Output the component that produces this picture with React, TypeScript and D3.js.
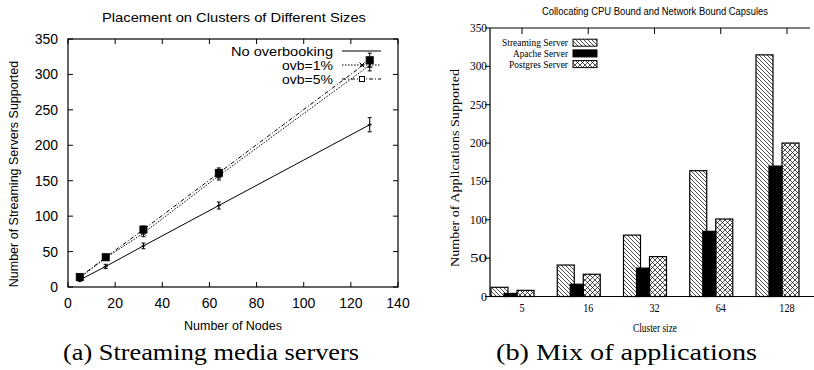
import React from 'react';
import * as d3 from 'd3';

// left panel: streaming servers vs nodes
const nodes = [5, 16, 32, 64, 128];
const noOvb = [10, 29, 58, 115, 229];
const noOvbErr = [2, 3, 4, 5, 10];
const ovb1 = [13, 41, 76, 157, 313];
const ovb1Err = [2, 3, 5, 6, 8];
const ovb5 = [14, 42, 81, 161, 320];
const ovb5Err = [2, 3, 5, 7, 10];
const xTicksA = [0, 20, 40, 60, 80, 100, 120, 140];
const yTicks = [0, 50, 100, 150, 200, 250, 300, 350];

// right panel: application mix
const clusterSizes = ['5', '16', '32', '64', '128'];
const streaming = [12, 41, 80, 164, 315];
const apache = [4, 16, 37, 85, 170];
const postgres = [8, 29, 52, 101, 200];

const sans = 'Liberation Sans, Arial, sans-serif';
const serif = 'Liberation Serif, Times New Roman, serif';

const LeftChart = () => {
  const x = d3.scaleLinear().domain([0, 140]).range([68, 398]);
  const y = d3.scaleLinear().domain([0, 350]).range([287, 39]);
  const series = [
    { name: 'No overbooking', vals: noOvb, err: noOvbErr, dash: 'none', marker: 'plus' },
    { name: 'ovb=1%', vals: ovb1, err: ovb1Err, dash: '1.5,1.5', marker: 'x' },
    { name: 'ovb=5%', vals: ovb5, err: ovb5Err, dash: '4,2,1,2', marker: 'sq' },
  ];
  const line = d3.line<number>().x((d, i) => x(nodes[i])).y((d) => y(d));
  const marker = (m: string, cx: number, cy: number, key: string, legend = false) => {
    if (m === 'plus') return <path key={key} d={`M${cx - 2},${cy}h4M${cx},${cy - 2}v4`} stroke="#000" />;
    if (m === 'x') return <path key={key} d={`M${cx - 2.5},${cy - 2.5}l5,5M${cx - 2.5},${cy + 2.5}l5,-5`} stroke="#000" />;
    return legend
      ? <rect key={key} x={cx - 2.5} y={cy - 2.5} width={5} height={5} fill="#fff" stroke="#000" />
      : <rect key={key} x={cx - 3.5} y={cy - 3.5} width={7} height={7} fill="#000" stroke="#000" />;
  };
  return (
    <g>
      <text x={234} y={22} textAnchor="middle" fontFamily={sans} fontSize={13.5} textLength={264} lengthAdjust="spacingAndGlyphs">Placement on Clusters of Different Sizes</text>
      <rect x={68} y={39} width={330} height={248} fill="none" stroke="#000" strokeWidth={1.2} />
      {yTicks.map((t) => (
        <g key={'y' + t}>
          <path d={`M68,${y(t)}h5M398,${y(t)}h-5`} stroke="#000" />
          <text x={58} y={y(t) + 5} textAnchor="end" fontFamily={sans} fontSize={14}>{t}</text>
        </g>
      ))}
      {xTicksA.map((t) => (
        <g key={'x' + t}>
          <path d={`M${x(t)},287v-5M${x(t)},39v5`} stroke="#000" />
          <text x={x(t)} y={308} textAnchor="middle" fontFamily={sans} fontSize={14}>{t}</text>
        </g>
      ))}
      <text transform="translate(18,174) rotate(-90)" textAnchor="middle" fontFamily={sans} fontSize={12.5}>Number of Streaming Servers Supported</text>
      <text x={233} y={330} textAnchor="middle" fontFamily={sans} fontSize={12.5}>Number of Nodes</text>
      {series.map((s) => (
        <g key={s.name}>
          <path d={line(s.vals) || ''} fill="none" stroke="#000" strokeWidth={1} strokeDasharray={s.dash} />
          {s.vals.map((v, i) => {
            const cx = x(nodes[i]);
            return (
              <g key={i}>
                <path d={`M${cx},${y(v - s.err[i])}V${y(v + s.err[i])}M${cx - 2},${y(v - s.err[i])}h4M${cx - 2},${y(v + s.err[i])}h4`} stroke="#000" />
                {marker(s.marker, cx, y(v), 'm' + i)}
              </g>
            );
          })}
        </g>
      ))}
      {series.map((s, i) => {
        const ly = 51 + i * 14;
        return (
          <g key={'l' + s.name}>
            <text x={333} y={ly + 4.5} textAnchor="end" fontFamily={sans} fontSize={13.5} textLength={s.name === 'No overbooking' ? 102 : 51} lengthAdjust="spacingAndGlyphs">{s.name}</text>
            <path d={`M342,${ly}H381`} stroke="#000" strokeDasharray={s.dash} />
            {i > 0 && marker(s.marker, 362, ly, 'lm', true)}
          </g>
        );
      })}
      <text x={211} y={360} textAnchor="middle" fontFamily={serif} fontSize={23} textLength={296} lengthAdjust="spacingAndGlyphs">(a) Streaming media servers</text>
    </g>
  );
};

const RightChart = () => {
  const x = d3.scalePoint<string>().domain(clusterSizes).range([522, 787]);
  const y = d3.scaleLinear().domain([0, 350]).range([296.5, 28]);
  const bars = [
    { name: 'Streaming Server', vals: streaming, fill: 'url(#hatch)', x0: -31, x1: -14, w: 66 },
    { name: 'Apache Server', vals: apache, fill: '#000', x0: -18, x1: -5, w: 55 },
    { name: 'Postgres Server', vals: postgres, fill: 'url(#cross)', x0: -5, x1: 12, w: 59 },
  ];
  return (
    <g>
      <defs>
        <pattern id="hatch" patternUnits="userSpaceOnUse" width={4} height={4}>
          <path d="M0,0L4,4M-1,3L1,5M3,-1L5,1" stroke="#000" strokeWidth={0.7} />
        </pattern>
        <pattern id="cross" patternUnits="userSpaceOnUse" width={5} height={5}>
          <path d="M0,0L5,5M-1,4L1,6M4,-1L6,1M0,5L5,0M-1,1L1,-1M4,6L6,4" stroke="#000" strokeWidth={0.7} />
        </pattern>
      </defs>
      <text x={655} y={15} textAnchor="middle" fontFamily={sans} fontSize={10} textLength={226} lengthAdjust="spacingAndGlyphs">Collocating CPU Bound and Network Bound Capsules</text>
      <path d="M490,28V296.5H814M490,28H810" fill="none" stroke="#000" strokeWidth={1.2} />
      {yTicks.map((t) => (
        <g key={'y' + t}>
          <path d={`M490,${y(t)}h-5`} stroke="#000" />
          <text x={487} y={y(t) + 4} textAnchor="end" fontFamily={serif} fontSize={12} textLength={t ? 17 : 6} lengthAdjust="spacingAndGlyphs">{t}</text>
        </g>
      ))}
      {clusterSizes.map((c) => (
        <g key={'x' + c}>
          <path d={`M${x(c)},28v6`} stroke="#000" />
          <text x={x(c)} y={312} textAnchor="middle" fontFamily={serif} fontSize={12} transform={`translate(${x(c)! * 0.15},0) scale(0.85,1)`}>{c}</text>
        </g>
      ))}
      <text transform="translate(459,168) rotate(-90)" textAnchor="middle" fontFamily={serif} fontSize={11.5} textLength={198} lengthAdjust="spacingAndGlyphs">Number of Applications Supported</text>
      <text x={655} y={332} textAnchor="middle" fontFamily={serif} fontSize={12} textLength={44} lengthAdjust="spacingAndGlyphs">Cluster size</text>
      {bars.map((b) => (
        <g key={b.name}>
          {b.vals.map((v, i) => {
            const cx = x(clusterSizes[i])!;
            return <rect key={i} x={cx + b.x0} y={y(v)} width={b.x1 - b.x0} height={y(0) - y(v)} fill={b.fill} stroke="#000" strokeWidth={1.2} />;
          })}
        </g>
      ))}
      {bars.map((b, i) => {
        const ly = 42.7 + i * 10.7;
        return (
          <g key={'l' + b.name}>
            <text x={568} y={ly + 3.5} textAnchor="end" fontFamily={serif} fontSize={11} textLength={b.w} lengthAdjust="spacingAndGlyphs">{b.name}</text>
            <rect x={573} y={ly - 3.5} width={24} height={7} fill={b.fill} stroke="#000" strokeWidth={1} />
          </g>
        );
      })}
      <text x={626.5} y={360} textAnchor="middle" fontFamily={serif} fontSize={23} textLength={261} lengthAdjust="spacingAndGlyphs">(b) Mix of applications</text>
    </g>
  );
};

const App = () => (
  <svg width={814} height={370} style={{ position: 'absolute', left: 0, top: 0, background: '#fff' }}>
    <rect width={814} height={370} fill="#fff" />
    <LeftChart />
    <RightChart />
  </svg>
);

export default App;
